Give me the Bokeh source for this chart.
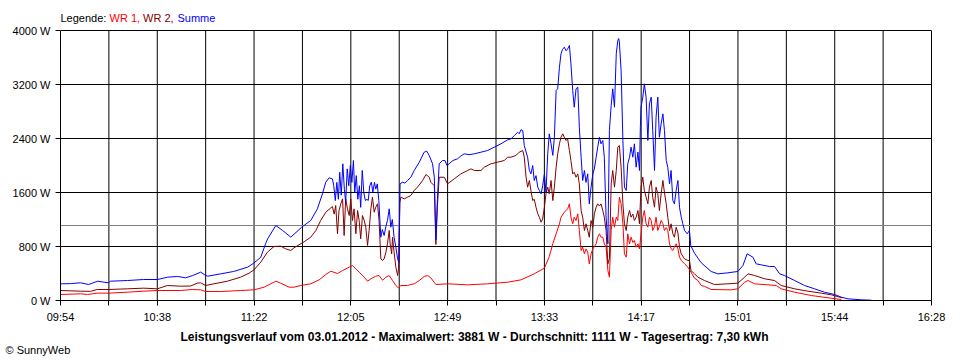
from bokeh.plotting import figure
from bokeh.models import (Range1d, FixedTicker, CustomJSTickFormatter, LinearAxis,
                          PrintfTickFormatter, Span, Label, Title)
from bokeh.embed import file_html
from bokeh.resources import INLINE

# ---------------- data ----------------
day = "03.01.2012"
axis_minutes = 394                      # 09:54 .. 16:28
tick_labels = ["09:54", "10:38", "11:22", "12:05", "12:49",
               "13:33", "14:17", "15:01", "15:44", "16:28"]
y_ticks = [0, 800, 1600, 2400, 3200, 4000]
max_w = 3881
average_w = 1111
yield_kwh = "7,30"

# Summe (minutes after 09:54, watts)
sum_min = [0.0, 4.5, 9.1, 12.7, 16.8, 21.7, 22.6, 30.3, 37.6, 43.9, 48.5, 53.0, 56.6, 59.8,
           63.4, 65.7, 66.6, 72.5, 78.3, 84.7, 87.4, 90.6, 92.8, 93.7, 97.4, 100.5, 104.2,
           109.1, 113.2, 116.2, 118.5, 120.0, 121.5, 123.0,
           123.6, 124.3, 125.0, 125.7, 126.3, 127.0, 127.7, 128.4, 129.0, 129.7, 130.4, 131.1,
           131.8, 132.5, 133.1, 133.8, 134.5, 135.2, 135.8, 136.5, 137.2, 137.9, 138.6, 139.2,
           139.9, 140.6, 141.3, 142.0, 142.6, 143.3, 144.0, 144.9, 145.6, 146.4, 147.2, 147.9,
           148.7, 149.4, 150.1, 150.9, 151.7, 152.5, 153.1, 153.6, 154.7, 155.8, 157.0, 158.5,
           160.0, 162.3, 164.5, 165.7, 166.8, 168.3, 169.1, 169.8, 170.5, 171.3, 172.8, 173.9,
           174.8, 175.8, 177.5, 179.6, 181.1, 182.6, 184.8, 187.2, 190.2, 193.2, 196.2, 199.2,
           202.3, 203.8, 205.3, 206.8, 207.5, 208.3, 209.1, 209.8, 210.6, 211.3, 212.1, 212.8,
           213.6, 214.3, 215.1, 215.9, 216.6, 217.4, 218.1, 218.9, 219.6, 220.4, 221.1, 221.9,
           222.7, 223.4, 224.2, 224.9, 225.7, 226.4, 227.1, 227.9, 228.7, 229.4, 230.2, 230.9,
           231.7, 232.4, 233.2, 234.0, 234.7, 235.5, 236.2, 237.0, 237.7, 238.5, 239.2, 240.0,
           240.8, 241.5, 242.3, 243.0, 243.8, 244.5, 245.3, 246.0, 246.8, 247.6, 248.3, 249.1,
           249.8, 250.6, 251.4, 252.1, 252.5, 252.8, 253.6, 254.4, 255.1, 255.9, 256.6, 257.4,
           258.1, 258.9, 259.6, 260.4, 261.2, 261.9, 262.3, 262.6, 263.4, 264.1, 264.9, 265.7,
           266.4, 267.2, 267.9, 268.7, 269.4, 270.2, 270.9, 271.7, 272.5, 273.2, 274.0, 274.7,
           275.5, 276.2, 277.0, 277.7, 278.5, 279.3, 280.0, 280.8, 281.5, 282.3, 283.5, 284.5,
           285.1, 286.8, 289.8, 294.3, 297.4, 301.9, 306.4, 308.7, 310.6, 313.2, 314.7, 317.0,
           320.7, 323.0, 325.3, 327.5, 332.1, 336.6, 341.1, 345.6, 350.2, 353.2, 356.2, 362.3,
           366.8]
sum_w = [247, 250, 262, 237, 286, 262, 286, 296, 311, 311, 346, 356, 336, 370,
         420, 370, 360, 395, 430, 494, 553, 642, 844, 914, 1111, 1037, 938,
         1086, 1185, 1358, 1580, 1753, 1817, 1802,
         1704, 1480, 1750, 1500, 1900, 1560, 2025, 1650, 1456, 1950, 1700, 2000,
         1750, 2074, 1600, 1850, 1500, 1700, 1380, 1926, 1600, 1480, 1500, 1481,
         1700, 1753, 1605, 1750, 1650, 1728, 1481, 938, 1050, 963, 1100, 1185,
         1358, 1086, 1200, 938, 790, 617, 560, 1728, 1753, 1740, 1778, 1826,
         1926, 2049, 2197, 2212, 2148, 2025, 1826, 900, 1500, 2025, 2074, 2074,
         2000, 2025, 2074, 2099, 2140, 2173, 2160, 2173, 2197, 2222, 2271, 2321,
         2380, 2395, 2444, 2493, 2470, 2530, 2519, 2296, 2200, 2123, 1926, 1876,
         2000, 1778, 1850, 1679, 1630, 1580, 1700, 1876, 1600, 2173, 2469, 2321,
         2150, 2419, 3111, 3136, 3456, 3654, 3720, 3753, 3700, 3728, 3778, 3506,
         3111, 2864, 3136, 3160, 2567, 2123, 1778, 1926, 1750, 1876, 1432, 1679,
         1876, 1950, 2123, 2271, 2419, 2321, 2370, 2123, 1234, 840, 2519, 2889,
         3136, 2864, 3654, 3852, 3881, 3830, 3407, 2370, 1679, 1630, 2025, 2123,
         2271, 2123, 2321, 1975, 2200, 1926, 2567, 2864, 3012, 3210, 3012, 2370,
         2913, 3012, 2519, 1926, 2716, 3012, 2419, 2617, 2765, 2519, 2074, 1975,
         1728, 1926, 1481, 1432, 1630, 1778, 1382, 1234, 1136, 1037, 988, 1037,
         815, 700, 560, 430, 395, 410, 430, 518, 691, 642, 543, 528,
         504, 504, 395, 370, 296, 222, 173, 123, 89, 49, 25, 10,
         5]

# WR 2
wr2_min = [0.0, 9.1, 13.6, 16.6, 21.9, 30.2, 37.7, 43.8, 48.3, 54.3, 58.9, 61.9, 63.4, 65.7,
           69.4, 75.5, 81.5, 85.3, 87.5, 90.6, 93.6, 96.6, 99.6, 101.9, 104.2, 105.6, 110.2,
           113.2, 115.5, 117.7, 120.0, 122.3, 123.0,
           123.8, 124.5, 125.3, 126.0, 126.8, 127.6, 128.3, 129.0, 129.8, 130.6, 131.3, 132.1,
           132.8, 133.6, 134.4, 135.1, 135.8, 136.6, 137.4, 138.1, 138.9, 139.6, 140.4, 141.1,
           141.9, 142.6, 143.4, 144.1, 144.9, 145.7, 146.4, 147.2, 147.9, 148.7, 149.1, 149.8,
           150.2, 150.9, 151.7, 152.5, 152.9, 153.5, 154.0, 155.5, 157.0, 158.5, 160.0, 161.5,
           163.8, 165.3, 166.8, 167.5, 169.1, 169.8, 170.5, 171.3, 173.6, 175.1, 178.1, 181.1,
           184.2, 185.7, 187.2, 190.2, 191.7, 194.7, 197.7, 200.7, 202.3, 203.8, 206.0, 207.5,
           209.1, 209.8, 210.6, 211.3, 212.1, 212.8, 213.6, 214.3, 215.1, 215.9, 216.6, 217.4,
           218.1, 218.9, 219.6, 220.4, 221.1, 221.9, 222.7, 223.4, 224.2, 224.9, 225.7, 226.4,
           227.2, 227.9, 228.7, 229.4, 230.2, 230.9, 231.7, 232.4, 233.2, 234.0, 234.7, 235.5,
           236.2, 237.0, 237.7, 238.5, 239.2, 240.0, 240.8, 241.5, 242.3, 243.0, 243.8, 244.5,
           245.3, 246.0, 246.8, 247.6, 248.3, 249.1, 249.8, 250.6, 251.4, 252.1, 252.8, 253.6,
           254.4, 255.1, 255.9, 256.6, 257.4, 258.1, 258.9, 259.6, 260.4, 261.2, 261.9, 262.6,
           263.4, 264.1, 264.9, 265.7, 266.4, 267.2, 267.9, 268.7, 269.4, 270.2, 270.9, 271.7,
           272.5, 273.2, 274.0, 274.7, 275.5, 276.2, 277.0, 277.7, 278.5, 279.3, 280.0, 280.8,
           282.3, 283.8, 284.5, 285.2, 286.8, 288.3, 291.3, 295.8, 301.9, 306.4, 309.5, 311.0,
           314.0, 318.6, 323.0, 326.0, 332.1, 338.1, 344.2, 348.7, 352.5, 353.7]
wr2_w = [148, 138, 136, 163, 163, 173, 183, 173, 222, 212, 215, 257, 262, 222,
         247, 286, 346, 405, 454, 568, 716, 800, 805, 765, 741, 780, 870,
         938, 1037, 1185, 1308, 1373, 1392,
         1280, 1407, 988, 1333, 1432, 1506, 963, 1506, 1358, 1259, 1506, 1185,
         1358, 988, 1333, 1185, 914, 1259, 1185, 1086, 815, 1037, 1358, 1531,
         1308, 1382, 1432, 1185, 617, 593, 617, 716, 840, 1037, 840, 691,
         938, 716, 494, 370, 470, 1456, 1531, 1506, 1531, 1556, 1630, 1679,
         1778, 1866, 1826, 1753, 1700, 830, 1400, 1826, 1826, 1728, 1802, 1876,
         1926, 1950, 1926, 1926, 1975, 2025, 2049, 2074, 2123, 2123, 2148, 2197,
         2222, 2123, 1826, 1679, 1778, 1630, 1481, 1500, 1382, 1284, 1234, 1160,
         1210, 1382, 1580, 1679, 1580, 1778, 1481, 1679, 1975, 2173, 2321, 2419,
         2469, 2419, 2370, 2395, 2222, 2074, 1876, 1900, 1826, 1876, 1728, 1333,
         1234, 1037, 1136, 1037, 938, 1185, 1086, 1284, 1382, 1432, 1400, 1432,
         1333, 1234, 1037, 543, 620, 1728, 1926, 1679, 1926, 2271, 2296, 1975,
         1432, 1136, 1037, 1234, 1333, 1234, 1280, 1185, 1234, 1333, 1136, 1679,
         1826, 1630, 1531, 1432, 1679, 1778, 1531, 1382, 1679, 1580, 1333, 1580,
         1778, 1600, 1432, 1234, 1037, 1136, 988, 938, 1086, 1000, 790, 691,
         617, 593, 593, 444, 395, 346, 296, 237, 247, 257, 346, 395,
         370, 321, 296, 222, 173, 138, 109, 84, 49, 40]

# WR 1
wr1_min = [0.0, 9.1, 12.2, 16.6, 21.9, 30.2, 37.7, 43.8, 54.3, 59.6, 63.4, 65.7, 72.5, 81.5,
           87.5, 92.1, 95.1, 97.4, 99.6, 103.4, 105.6, 108.7, 113.2, 117.0, 120.0, 122.3,
           125.3, 127.6, 130.6, 132.1, 133.6, 135.1, 137.4, 138.9, 140.4, 142.6, 144.1, 145.7,
           147.2, 148.7, 150.2, 151.7, 152.8, 154.0, 157.0, 158.5, 160.0, 162.3, 164.5, 166.1,
           167.5, 169.0, 169.8, 175.1, 184.2, 193.2, 202.3, 208.3, 214.3, 218.9, 221.1, 222.7,
           224.2, 225.7, 226.4, 227.9, 229.4, 230.2, 230.9, 231.7, 232.4, 233.2, 234.0, 234.7,
           235.5, 236.2, 237.0, 237.7, 238.5, 239.2, 240.0, 240.8, 242.3, 243.0, 243.8, 244.5,
           245.3, 246.0, 246.8, 247.6, 248.3, 249.1, 249.8, 250.6, 251.4, 252.1, 252.8, 253.6,
           254.4, 255.1, 255.9, 256.6, 257.4, 258.1, 258.9, 259.6, 260.4, 261.2, 261.9, 262.6,
           263.4, 264.1, 264.9, 265.7, 266.4, 267.2, 267.9, 268.7, 269.4, 270.2, 270.9, 271.7,
           272.5, 273.2, 274.0, 274.7, 275.5, 276.2, 277.0, 277.7, 278.5, 279.3, 280.0, 280.8,
           282.3, 283.8, 285.2, 286.8, 288.3, 289.8, 291.3, 294.3, 303.4, 306.4, 309.5, 311.0,
           314.0, 320.0, 323.8, 326.0, 332.1, 339.6, 347.2, 353.2]
wr1_w = [89, 99, 89, 109, 109, 123, 138, 148, 148, 163, 158, 133, 133, 148,
         158, 197, 247, 286, 257, 197, 197, 222, 247, 306, 385, 434,
         400, 444, 494, 518, 469, 420, 346, 286, 321, 360, 370, 300,
         346, 370, 296, 222, 188, 222, 222, 237, 247, 296, 356, 370,
         336, 271, 237, 247, 232, 247, 271, 306, 395, 480, 650, 840,
         988, 1136, 1234, 1308, 1358, 1432, 1234, 1136, 1234, 1185, 1284, 1037,
         741, 790, 691, 765, 716, 543, 691, 765, 840, 938, 988, 938,
         938, 840, 790, 444, 346, 1037, 1234, 1086, 1234, 1185, 1531, 1432,
         1136, 691, 642, 988, 840, 938, 860, 889, 790, 840, 765, 988,
         1234, 1333, 1136, 1086, 1234, 1185, 1037, 1100, 1234, 1037, 1100, 1185,
         1136, 1037, 1080, 1037, 840, 765, 741, 790, 840, 765, 642, 593,
         543, 494, 420, 330, 296, 222, 210, 163, 158, 173, 271, 296,
         247, 232, 222, 173, 123, 74, 40, 15]

# ---------------- figure ----------------
FONT = "Liberation Sans"
Y_TOP = 4000                              # top of the chart box
y_end = Y_TOP * 296 / 270                 # extra headroom above the box for the legend line

p = figure(width=952, height=360, x_range=Range1d(0, axis_minutes), y_range=Range1d(0, y_end),
           output_backend="svg", toolbar_location=None,
           min_border_left=60, min_border_right=21, min_border_top=4, min_border_bottom=60)
p.title.visible = False
p.background_fill_color = "white"
p.border_fill_color = "white"
p.outline_line_color = None

step = axis_minutes / 18
x_ticks = [i * step for i in range(19)]
p.xaxis.ticker = FixedTicker(ticks=x_ticks)
p.xaxis.formatter = CustomJSTickFormatter(
    args=dict(labels=tick_labels, step=step),
    code="const i = Math.round(tick / step); return (i % 2 == 0) ? labels[i / 2] : '';")
p.yaxis.ticker = FixedTicker(ticks=y_ticks)
p.yaxis.formatter = PrintfTickFormatter(format="%d W")
p.yaxis.bounds = (0, Y_TOP)

right_axis = LinearAxis(ticker=FixedTicker(ticks=[]), bounds=(0, Y_TOP))
p.add_layout(right_axis, "right")

for ax in (p.xaxis[0], p.yaxis[0], right_axis):
    ax.axis_line_color = "black"
    ax.axis_line_width = 1
    ax.major_tick_line_color = "black"
    ax.major_tick_out = 5
    ax.major_tick_in = 0
    ax.minor_tick_line_color = None
    ax.major_label_text_font = FONT
    ax.major_label_text_font_size = "11px"
    ax.major_label_text_color = "black"
    ax.major_label_standoff = 5

# horizontal grid (includes the top border at 4000 W)
p.ygrid.grid_line_color = "black"
p.ygrid.grid_line_alpha = 1.0
p.ygrid.grid_line_width = 1
# vertical grid lines limited to the chart box
p.xgrid.visible = False
p.segment(x0=x_ticks[1:-1], y0=[0] * 17, x1=x_ticks[1:-1], y1=[Y_TOP] * 17,
          line_color="black", line_width=1, level="underlay")

p.add_layout(Span(location=average_w, dimension="width", line_color="#808080",
                  line_width=1, level="underlay"))

p.line(wr1_min, wr1_w, line_color="#ff0000", line_width=1)
p.line(wr2_min, wr2_w, line_color="#800000", line_width=1)
p.line(sum_min, sum_w, line_color="#0000ff", line_width=1)

# legend text (top-left, inside the headroom)
for txt, col, xo in [("Legende:", "black", 0), ("WR 1,", "#ff0000", 49),
                     ("WR 2,", "#800000", 82.5), ("Summe", "#0000ff", 117)]:
    p.add_layout(Label(x=xo, y=283, x_units="screen", y_units="screen", text=txt,
                       text_color=col, text_font=FONT, text_font_size="11px",
                       text_baseline="middle", text_align="left"))

caption = (f"Leistungsverlauf vom {day} - Maximalwert: {max_w} W - "
           f"Durchschnitt: {average_w} W - Tagesertrag: {yield_kwh} kWh")
p.add_layout(Title(text=caption, align="left", offset=120, standoff=4,
                   text_color="black", text_font=FONT, text_font_size="12px",
                   text_font_style="bold"), "below")
p.add_layout(Title(text="\u00a9 SunnyWeb", align="left", offset=-55, standoff=-8,
                   text_color="black", text_font=FONT, text_font_size="11px",
                   text_font_style="normal"), "below")

open("out.html", "w").write(file_html(p, INLINE))
